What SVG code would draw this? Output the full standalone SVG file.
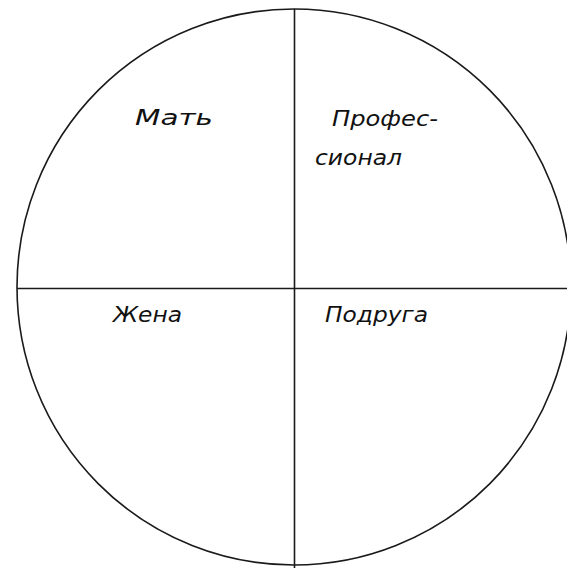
<svg xmlns="http://www.w3.org/2000/svg" width="567" height="568" viewBox="0 0 567 568">
<style>
.ln{stroke:#1a1a1a;stroke-width:1.6;fill:none}
.t{font-family:"DejaVu Sans","Liberation Sans",sans-serif;font-style:italic;font-size:21px;fill:#111}
</style>
<rect width="567" height="568" fill="#fff"/>
<g id="connectors">
<ellipse class="ln" cx="294" cy="287" rx="277" ry="278"/>
<line class="ln" x1="294.5" y1="9" x2="294.5" y2="568"/>
<line class="ln" x1="17" y1="288.5" x2="567" y2="288.5"/>
</g>
<g id="mother"><text class="t" x="135" y="125" textLength="78" lengthAdjust="spacingAndGlyphs">Мать</text></g>
<g id="professional"><text class="t" x="332" y="126" textLength="106" lengthAdjust="spacingAndGlyphs">Профес-</text><text class="t" x="315" y="165" textLength="87" lengthAdjust="spacingAndGlyphs">сионал</text></g>
<g id="wife"><text class="t" x="113" y="322" textLength="69" lengthAdjust="spacingAndGlyphs">Жена</text></g>
<g id="friend"><text class="t" x="325" y="322" textLength="103" lengthAdjust="spacingAndGlyphs">Подруга</text></g>
</svg>
